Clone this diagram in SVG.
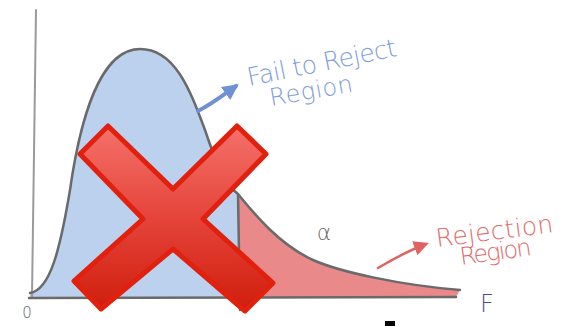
<svg xmlns="http://www.w3.org/2000/svg" width="577" height="326" viewBox="0 0 577 326">
<style>
.axis{fill:none;stroke:#9a9a9a;stroke-width:2;stroke-linecap:round}
.curve{fill:none;stroke:#6a6a6a;stroke-width:2.5;stroke-linecap:round;stroke-linejoin:round}
.blueTxt{font-family:"DejaVu Sans","Liberation Sans",sans-serif;font-weight:200;fill:#7d9ddc}
.redTxt{font-family:"DejaVu Sans","Liberation Sans",sans-serif;font-weight:200;fill:#e26a6a}
.lbl{font-family:"DejaVu Sans","Liberation Sans",sans-serif;font-weight:300}
</style>
<defs>
<linearGradient id="xg" x1="0" y1="0" x2="0" y2="1">
<stop offset="0" stop-color="#f4716a"/>
<stop offset="0.5" stop-color="#e5443a"/>
<stop offset="1" stop-color="#cf1d0c"/>
</linearGradient>
<marker id="ab" viewBox="0 0 10 10" refX="8" refY="5" markerWidth="4" markerHeight="4" orient="auto">
<path d="M0,0 L10,5 L0,10 z" fill="#6f90d2"/>
</marker>
<marker id="ar" viewBox="0 0 10 10" refX="8" refY="5" markerWidth="6" markerHeight="6" orient="auto">
<path d="M0,0 L10,5 L0,10 z" fill="#e06262"/>
</marker>
</defs>
<g id="regions">
<path id="blue-region" d="M30,293 C50,290 60,250 70,190 C80,120 100,49 140,49 C175,49 190,90 205,130 C215,160 225,185 238,194 L238,298 L30,298 Z" fill="#bcd1ee"/>
<path id="red-region" d="M238,194 C255,215 280,245 313,260 C340,272 400,285 460,290 L456,297 L238,298 Z" fill="#e9898a"/>
</g>
<g id="axes">
<path class="axis" d="M36,10 L32,297"/>
<path class="curve" d="M29,298 L456,297"/>
</g>
<g id="curve">
<path class="curve" d="M30,293 C50,290 60,250 70,190 C80,120 100,49 140,49 C175,49 190,90 205,130 C215,160 225,185 238,194 C255,215 280,245 313,260 C340,272 400,285 460,290"/>
<path class="curve" d="M238,194 L240,310" stroke-width="2"/>
</g>
<g id="connectors">
<path d="M198,111 C212,104 222,96 236,86" fill="none" stroke="#6f90d2" stroke-width="4" stroke-linecap="round" marker-end="url(#ab)"/>
<path d="M378,268 C395,258 410,250 426,244" fill="none" stroke="#e06262" stroke-width="2.5" stroke-linecap="round" marker-end="url(#ar)"/>
</g>
<g id="labels">
<text class="blueTxt" transform="translate(249,86) rotate(-11.5)" font-size="25" textLength="152">Fail to Reject</text>
<text class="blueTxt" transform="translate(271,106) rotate(-10)" font-size="24" textLength="84">Region</text>
<text class="redTxt" transform="translate(437,247) rotate(-7.3)" font-size="25" textLength="118">Rejection</text>
<text class="redTxt" transform="translate(461,265) rotate(-8)" font-size="24" textLength="72">Region</text>
<text class="lbl" x="324" y="240" font-size="22" fill="#6a6a6a" text-anchor="middle">α</text>
<text class="lbl" x="27" y="318" font-size="15" fill="#666" text-anchor="middle">0</text>
<text class="lbl" x="487" y="312" font-size="24" fill="#4b4b9c" text-anchor="middle">F</text>
</g>
<g id="x-mark">
<path d="M173,189 L237,126 L266,154 L203,219 L273,283 L245,311 L173,249 L101,309 L74,281 L143,219 L80,154 L108,126 Z" fill="url(#xg)" stroke="#e2200e" stroke-width="5" stroke-linejoin="round"/>
</g>
<rect x="385" y="321" width="10" height="5" fill="#000"/>
</svg>
